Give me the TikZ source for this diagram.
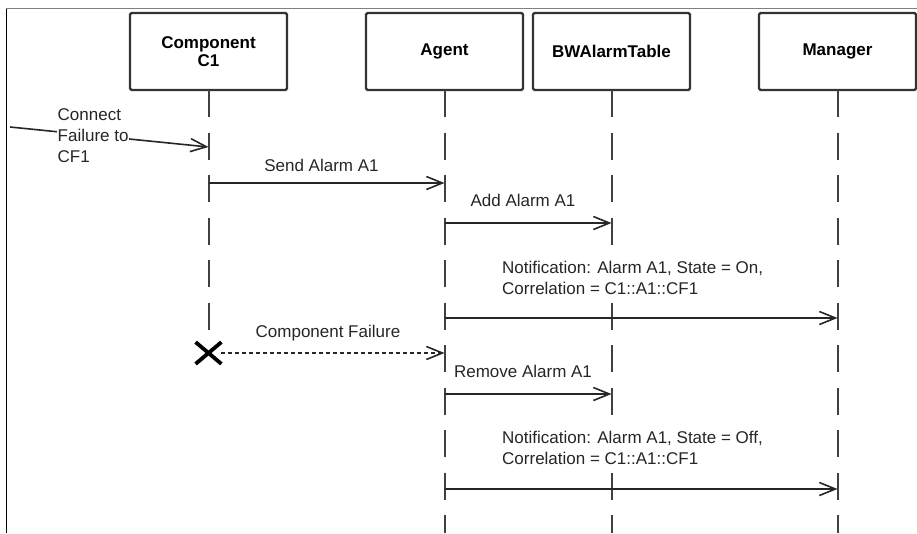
\documentclass[tikz,border=0pt]{standalone}
\usepackage{fontspec}
\setmainfont{Liberation Sans}
\usepackage{tikz}
\usetikzlibrary{arrows.meta, positioning, shapes.misc}

\begin{document}
\begin{tikzpicture}[
		x=1pt, y=-1pt,
		lifebox/.style={
			rectangle,
			draw=black!80,
			line width=2.2pt,
			minimum width=157pt,
			minimum height=77pt,
			rounded corners=1.5pt,
			align=center,
			inner sep=0pt,
			outer sep=0pt,
			font=\fontsize{17}{18}\selectfont\bfseries
		},
		lifeline/.style={
			draw=black!75,
			line width=2pt,
			dash pattern=on 27pt off 15.5pt
		},
		msg/.style={
			-{Straight Barb[length=16pt, width=13pt]},
			draw=black!85,
			line width=1.6pt
		},
		failmsg/.style={
			msg,
			dash pattern=on 4pt off 3pt
		},
		msglbl/.style={
			text=black!85,
			align=left,
			inner sep=0pt,
			font=\fontsize{17}{21}\selectfont
		},
		midlbl/.style={
			msglbl,
			midway,
			xshift=-5pt
		}
		]
		
		\useasboundingbox (0,0) rectangle (917,533);
		
		% Frame (top and left edge)
		\draw[black!50, line width=1.3pt] (6,8.5) -- (917,8.5);
		\draw[black, line width=1.3pt] (6.5,8.5) -- (6.5,533);
		
		% Block 1: Component C1
		\node[lifebox] (c1) at (208.5,51.5) {Component\\C1};
		
		% Block 2: Agent
		\node[lifebox, right=79pt of c1] (agent) {Agent};
		
		% Block 3: BWAlarmTable
		\node[lifebox, right=10pt of agent] (table) {BWAlarmTable};
		
		% Block 4: Manager
		\node[lifebox, right=69pt of table] (manager) {Manager};
		
		% Termination of C1
		\node[cross out, draw=black, line width=3.8pt, minimum width=22pt, minimum height=18pt, inner sep=0pt] (stop) at (c1 |- 0,353) {};
		
		% Lifelines
		\coordinate (agentend) at (agent |- 0,533);
		\coordinate (tableend) at (table |- 0,533);
		\coordinate (managerend) at (manager |- 0,533);
		\draw[lifeline] (c1.south) -- (stop.north);
		\draw[lifeline] (agent.south) -- (agentend);
		\draw[lifeline] (table.south) -- (tableend);
		\draw[lifeline] (manager.south) -- (managerend);
		
		% Found message into C1
		\coordinate (found) at (10,127);
		\draw[msg] (found) -- (c1 |- 0,147);
		\node[msglbl, fill=white, inner sep=0.5pt, anchor=south west] (connectlbl) at (57,163) {Connect\\Failure to\\CF1};
		
		% C1 -> Agent
		\draw[msg] (c1 |- 0,183) -- node[midlbl, above=11pt] (sendlbl) {Send Alarm A1} (agent |- 0,183);
		
		% Agent -> BWAlarmTable
		\draw[msg] (agent |- 0,223) -- node[midlbl, above=16pt] (addlbl) {Add Alarm A1} (table |- 0,223);
		
		% Agent -> Manager (state on)
		\draw[msg] (agent |- 0,318) -- (manager |- 0,318);
		\node[msglbl, fill=white, inner sep=1pt, anchor=south west] (onlbl) at (501,296) {Notification: Alarm A1, State = On,\\Correlation = C1::A1::CF1};
		
		% C1 fails
		\draw[failmsg] (stop) -- node[midlbl, above=11.5pt] (faillbl) {Component Failure} (agent |- 0,353);
		
		% Agent -> BWAlarmTable (remove)
		\draw[msg] (agent |- 0,394) -- node[midlbl, above=16pt] (removelbl) {Remove Alarm A1} (table |- 0,394);
		
		% Agent -> Manager (state off)
		\draw[msg] (agent |- 0,489) -- (manager |- 0,489);
		\node[msglbl, fill=white, inner sep=1pt, anchor=south west] (offlbl) at (501,466) {Notification: Alarm A1, State = Off,\\Correlation = C1::A1::CF1};
		
	\end{tikzpicture}
\end{document}
